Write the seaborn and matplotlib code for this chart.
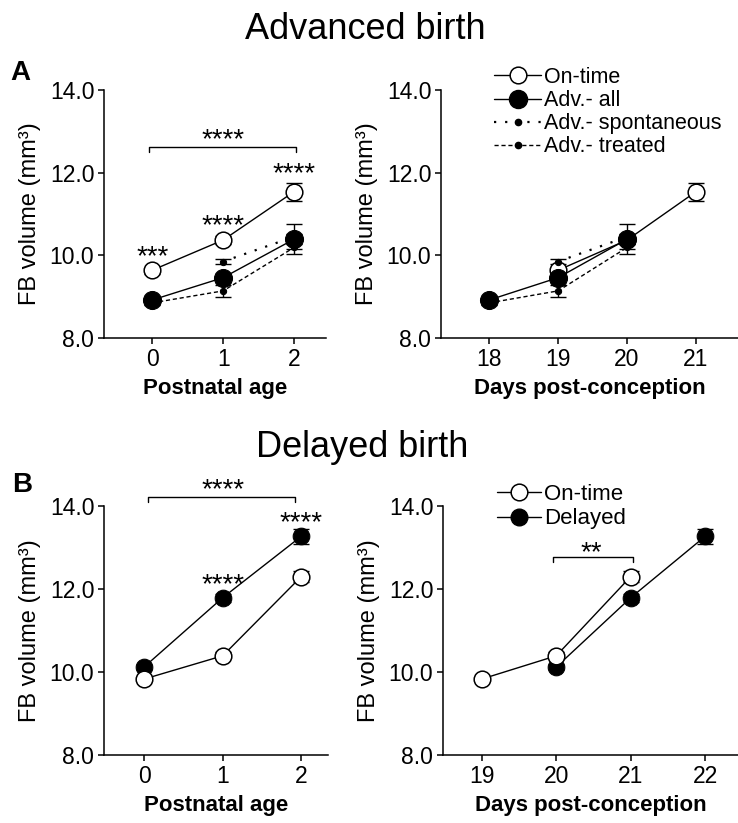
import matplotlib
matplotlib.use('Agg')
import matplotlib.pyplot as plt
import seaborn as sns
from matplotlib.lines import Line2D
from matplotlib.ticker import FormatStrFormatter

# 数据 - Advanced birth
postnatal_age = [0, 1, 2]
spont_age = [1, 2]
dpc_ontime_adv = [19, 20, 21]
dpc_adv = [18, 19, 20]
dpc_spont = [19, 20]
ontime_adv = [9.64, 10.37, 11.54]
ontime_adv_err = [0.08, 0.10, 0.22]
adv_all = [8.92, 9.46, 10.39]
adv_all_err = [0.07, 0.10, 0.12]
adv_spont = [9.85, 10.45]
adv_spont_err = [0.07, 0.30]
adv_treated = [8.85, 9.14, 10.19]
adv_treated_err = [0.05, 0.15, 0.15]

# 数据 - Delayed birth
dpc_ontime_del = [19, 20, 21]
dpc_delayed = [20, 21, 22]
ontime_del = [9.83, 10.39, 12.30]
ontime_del_err = [0.07, 0.08, 0.13]
delayed = [10.12, 11.79, 13.27]
delayed_err = [0.07, 0.10, 0.18]

sns.set_style('ticks')
plt.rcParams['font.family'] = ['Liberation Sans', 'DejaVu Sans']
plt.rcParams['axes.linewidth'] = 1.1
plt.rcParams['xtick.major.width'] = 1.1
plt.rcParams['ytick.major.width'] = 1.1
plt.rcParams['xtick.major.size'] = 4
plt.rcParams['ytick.major.size'] = 4
for key in ['text.color', 'axes.labelcolor', 'xtick.color', 'ytick.color', 'axes.edgecolor']:
    plt.rcParams[key] = 'black'

STYLES = {
    'ontime': dict(marker='o', markersize=12, markerfacecolor='white', markeredgecolor='black',
                   markeredgewidth=1.1, linestyle='-', linewidth=1.0),
    'all': dict(marker='o', markersize=13, markerfacecolor='black', markeredgecolor='black',
                linestyle='-', linewidth=1.0),
    'spont': dict(marker='o', markersize=4.5, markerfacecolor='black', markeredgecolor='black',
                  linestyle=(0, (1, 4)), linewidth=1.6),
    'treated': dict(marker='o', markersize=4.5, markerfacecolor='black', markeredgecolor='black',
                    linestyle=(0, (3, 2)), linewidth=1.0),
    'delayed': dict(marker='o', markersize=12, markerfacecolor='black', markeredgecolor='black',
                    linestyle='-', linewidth=1.0),
}

fig = plt.figure(figsize=(7.38, 8.23), dpi=100)
W, H = 738.0, 823.0


def px_axes(x0, y0, x1, y1):
    return fig.add_axes([x0 / W, 1 - y1 / H, (x1 - x0) / W, (y1 - y0) / H])


def draw(ax, x, y, err, kind):
    ax.errorbar(x, y, yerr=err, fmt='none', ecolor='black', elinewidth=1.0,
                capsize=6, capthick=1.0, zorder=1.5)
    sns.lineplot(x=x, y=y, ax=ax, color='black', errorbar=None, legend=False,
                 zorder=3, clip_on=False, **STYLES[kind])


def stars(ax, x, y, s, fs=20):
    # y 为星号字形中心
    ax.annotate(s, (x, y), xytext=(0, -0.56 * fs), textcoords='offset points',
                ha='center', va='baseline', fontsize=fs, annotation_clip=False)


def bracket(ax, x0, x1, y, d=0.13):
    ax.plot([x0, x0, x1, x1], [y - d, y, y, y - d], color='black', lw=1.0, clip_on=False)


def style_axes(ax, xticks, xlim, xlabel):
    ax.set_ylim(8, 14)
    ax.set_yticks([8, 10, 12, 14])
    ax.yaxis.set_major_formatter(FormatStrFormatter('%.1f'))
    ax.set_xticks(xticks)
    ax.set_xlim(*xlim)
    ax.tick_params(labelsize=16.5, pad=3)
    ax.set_xlabel(xlabel, fontsize=16, fontweight='bold', labelpad=5)
    ax.set_ylabel('FB volume (mm³)', fontsize=17, labelpad=6)
    sns.despine(ax=ax)


# A 左
ax1 = px_axes(104, 90, 326, 338)
draw(ax1, postnatal_age, ontime_adv, ontime_adv_err, 'ontime')
draw(ax1, spont_age, adv_spont, adv_spont_err, 'spont')
draw(ax1, postnatal_age, adv_treated, adv_treated_err, 'treated')
draw(ax1, postnatal_age, adv_all, adv_all_err, 'all')
style_axes(ax1, postnatal_age, (-0.68, 2.45), 'Postnatal age')
bracket(ax1, -0.04, 2.02, 12.63)
stars(ax1, 1, 13.0, '****')
stars(ax1, 0, 10.17, '***')
stars(ax1, 1, 10.91, '****')
stars(ax1, 2, 12.16, '****')

# A 右
ax2 = px_axes(441, 90, 738, 338)
draw(ax2, dpc_ontime_adv, ontime_adv, ontime_adv_err, 'ontime')
draw(ax2, dpc_spont, adv_spont, adv_spont_err, 'spont')
draw(ax2, dpc_adv, adv_treated, adv_treated_err, 'treated')
draw(ax2, dpc_adv, adv_all, adv_all_err, 'all')
style_axes(ax2, [18, 19, 20, 21], (17.3, 21.61), 'Days post-conception')

handles_a = [Line2D([], [], color='black', **STYLES[k]) for k in ['ontime', 'all', 'spont', 'treated']]
ax2.legend(handles_a, ['On-time', 'Adv.- all', 'Adv.- spontaneous', 'Adv.- treated'],
           loc='upper left', bbox_to_anchor=(494 / W, 1 - 67 / H), bbox_transform=fig.transFigure,
           frameon=False, fontsize=15.5, handlelength=2.2, handletextpad=0.1,
           labelspacing=0.1, borderpad=0, borderaxespad=0)

# B 左
ax3 = px_axes(104, 506, 328, 755)
draw(ax3, postnatal_age, delayed, delayed_err, 'delayed')
draw(ax3, postnatal_age, ontime_del, ontime_del_err, 'ontime')
style_axes(ax3, postnatal_age, (-0.51, 2.34), 'Postnatal age')
bracket(ax3, 0.05, 1.92, 14.22)
stars(ax3, 1, 14.59, '****')
stars(ax3, 1, 12.30, '****')
stars(ax3, 2, 13.78, '****')

# B 右
ax4 = px_axes(443, 506, 738, 755)
draw(ax4, dpc_delayed, delayed, delayed_err, 'delayed')
draw(ax4, dpc_ontime_del, ontime_del, ontime_del_err, 'ontime')
style_axes(ax4, [19, 20, 21, 22], (18.48, 22.44), 'Days post-conception')
bracket(ax4, 19.96, 21.03, 12.78)
stars(ax4, 20.47, 13.07, '**')

handles_b = [Line2D([], [], color='black', **STYLES[k]) for k in ['ontime', 'delayed']]
ax4.legend(handles_b, ['On-time', 'Delayed'],
           loc='upper left', bbox_to_anchor=(497 / W, 1 - 484 / H), bbox_transform=fig.transFigure,
           frameon=False, fontsize=16, handlelength=2.0, handletextpad=0.1,
           labelspacing=0.15, borderpad=0, borderaxespad=0)

# 标题与面板字母
fig.text(365 / W, 1 - 39 / H, 'Advanced birth', ha='center', va='baseline', fontsize=26)
fig.text(362 / W, 1 - 457 / H, 'Delayed birth', ha='center', va='baseline', fontsize=26)
fig.text(10 / W, 1 - 80 / H, 'A', fontsize=20, fontweight='bold', va='baseline')
fig.text(12 / W, 1 - 492 / H, 'B', fontsize=20, fontweight='bold', va='baseline')

fig.savefig('out.png', dpi=100)
